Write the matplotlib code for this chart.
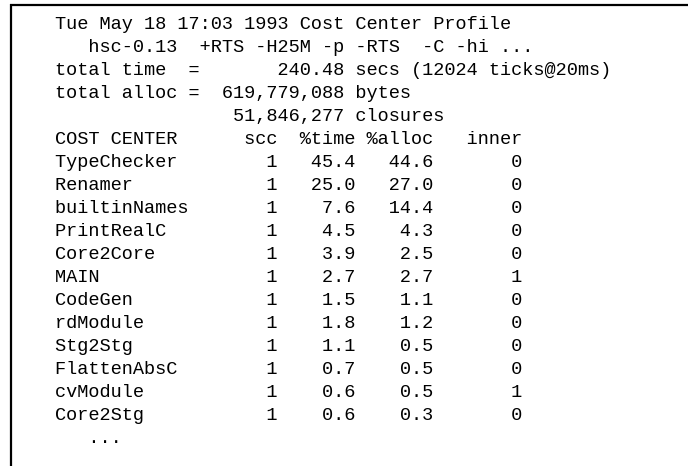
import matplotlib
matplotlib.use('Agg')
import matplotlib.pyplot as plt

# profile header
run_date = 'Tue May 18 17:03 1993'
command = 'hsc-0.13  +RTS -H25M -p -RTS  -C -hi ...'
total_secs = 240.48
ticks = 12024
tick_ms = 20
alloc_bytes = 619779088
alloc_closures = 51846277

# cost centre table
cost_centers = ['TypeChecker', 'Renamer', 'builtinNames', 'PrintRealC',
                'Core2Core', 'MAIN', 'CodeGen', 'rdModule', 'Stg2Stg',
                'FlattenAbsC', 'cvModule', 'Core2Stg']
scc = [1, 1, 1, 1, 1, 1, 1, 1, 1, 1, 1, 1]
pct_time = [45.4, 25.0, 7.6, 4.5, 3.9, 2.7, 1.5, 1.8, 1.1, 0.7, 0.6, 0.6]
pct_alloc = [44.6, 27.0, 14.4, 4.3, 2.5, 2.7, 1.1, 1.2, 0.5, 0.5, 0.5, 0.3]
inner = [0, 0, 0, 0, 0, 1, 0, 0, 0, 0, 1, 0]

lines = [
    f'{run_date} Cost Center Profile',
    f'   {command}',
    f'total time  = {total_secs:12.2f} secs ({ticks} ticks@{tick_ms}ms)',
    f'total alloc = {alloc_bytes:12,d} bytes',
    f'{alloc_closures:26,d} closures',
    'COST CENTER      scc  %time %alloc   inner',
]
for name, s, t, a, i in zip(cost_centers, scc, pct_time, pct_alloc, inner):
    lines.append(f'{name:<19}{s}{t:7.1f}{a:7.1f}{i:8d}')
lines.append('   ...')

fig = plt.figure(figsize=(6.88, 4.66), dpi=100, facecolor='white')
ax = fig.add_axes([0, 0, 1, 1])
ax.set_xlim(0, 688)
ax.set_ylim(466, 0)
ax.axis('off')

# frame: top and left rules only
ax.plot([10, 688], [5, 5], color='black', lw=1.6, solid_capstyle='butt')
ax.plot([10.5, 10.5], [4.2, 466], color='black', lw=1.6, solid_capstyle='butt')

for n, text in enumerate(lines):
    ax.text(55, 29 + 23 * n, text, family='Liberation Mono', fontsize=13.4,
            va='baseline', ha='left', color='black')

fig.savefig('out.png', dpi=100, facecolor='white')
